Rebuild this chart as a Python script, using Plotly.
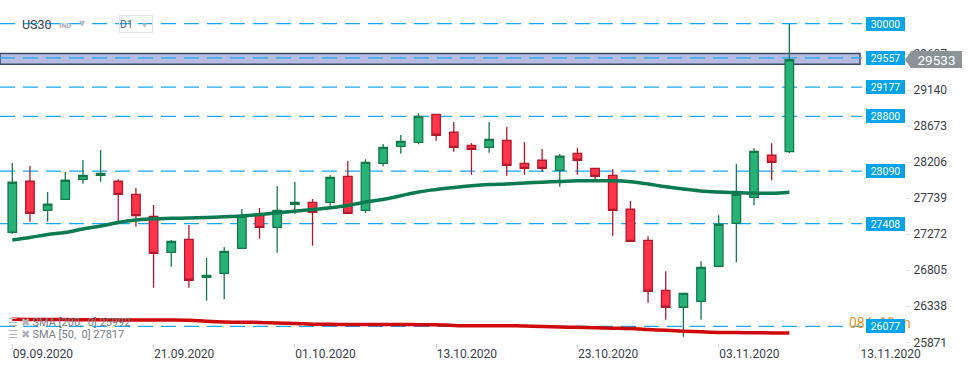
import plotly.graph_objects as go

# ---------------- data ----------------
dates_ticks = ["09.09.2020", "21.09.2020", "01.10.2020", "13.10.2020",
               "23.10.2020", "03.11.2020", "13.11.2020"]
date_tick_idx = [0, 8, 16, 24, 32, 40, 48]

open_ = [27297, 27958, 27582, 27724, 27983, 28035, 27958, 27789, 27504, 27037,
         27206, 26713, 26765, 27089, 27521, 27361, 27660, 27685, 27685, 28022,
         27582, 28191, 28411, 28463, 28826, 28593, 28424, 28398, 28489, 28191,
         28230, 28100, 28320, 28126, 28035, 27595, 27193, 26545, 26325, 26402,
         26856, 27413, 27750, 28295, 28341]
high = [28195, 28156, 27819, 28082, 28234, 28363, 27983, 27871, 27650, 27197,
        27391, 26964, 27106, 27599, 27612, 27897, 27949, 27728, 28039, 28221,
        28243, 28441, 28558, 28839, 28830, 28726, 28454, 28726, 28661, 28467,
        28376, 28311, 28389, 28130, 28113, 27702, 27245, 26791, 26510, 26921,
        27517, 28182, 28385, 28450, 29995]
low = [27275, 27434, 27434, 27718, 27926, 27952, 27434, 27369, 26579, 26851,
       26579, 26410, 26428, 27085, 27214, 27032, 27538, 27123, 27641, 27530,
       27543, 28152, 28315, 28437, 28484, 28341, 28043, 28328, 28030, 28043,
       28082, 27888, 28043, 27974, 27253, 27175, 26384, 26164, 25944, 26164,
       26843, 26908, 27646, 27970, 28324]
close = [27945, 27543, 27660, 27971, 28035, 28061, 27789, 27512, 27024, 27180,
         26675, 26739, 27050, 27504, 27361, 27582, 27685, 27556, 28009, 27543,
         28204, 28398, 28476, 28800, 28554, 28398, 28372, 28502, 28165, 28126,
         28126, 28282, 28230, 28022, 27582, 27180, 26532, 26325, 26506, 26843,
         27400, 27789, 28346, 28204, 29533]

sma50 = [27197, 27229, 27268, 27294, 27339, 27378, 27424, 27456, 27473, 27478,
         27482, 27488, 27498, 27508, 27527, 27549, 27569, 27592, 27614, 27644,
         27689, 27722, 27770, 27819, 27851, 27877, 27899, 27915, 27923, 27936,
         27945, 27955, 27964, 27964, 27964, 27952, 27923, 27886, 27858, 27832,
         27819, 27811, 27803, 27802, 27817]
sma200 = [26169, 26168, 26166, 26165, 26164, 26163, 26161, 26160, 26160, 26159,
          26156, 26143, 26134, 26131, 26129, 26121, 26115, 26106, 26104, 26103,
          26103, 26102, 26102, 26100, 26099, 26089, 26086, 26086, 26085, 26082,
          26076, 26069, 26065, 26059, 26054, 26049, 26038, 26026, 26015, 26007,
          25999, 25997, 25995, 25993, 25992]

levels = [30000, 29557, 29177, 28800, 28090, 27408, 26077]
zone = [29475, 29615]
price_ticks = [25871, 26338, 26805, 27272, 27739, 28206, 28673, 29140, 29607]
symbol = "US30"
timeframe = "D1"
countdown = "08 h 19 m"

# ---------------- layout geometry ----------------
W, H = 974, 368
ML, MR, MT, MB = 0, 69, 0, 25
PW = W - ML - MR          # plot width in px
PH = H - MT - MB          # plot height in px
Y0, Y1 = 25862, 30307
upp = (Y1 - Y0) / PH      # price units per pixel


def px(x):
    return x / PW


def py(y):
    return 1 - y / PH


x_idx = list(range(len(close)))

fig = go.Figure()

fig.add_trace(go.Candlestick(
    x=x_idx, open=open_, high=high, low=low, close=close,
    increasing=dict(line=dict(color="#13794b", width=1.3), fillcolor="#27b377"),
    decreasing=dict(line=dict(color="#b3192d", width=1.3), fillcolor="#ff3349"),
    whiskerwidth=0, showlegend=False, hoverinfo="skip",
))
fig.add_trace(go.Scatter(
    x=x_idx, y=sma50, mode="lines", line=dict(color="#0a7a50", width=3.5, shape="spline"),
    showlegend=False, hoverinfo="skip"))
fig.add_trace(go.Scatter(
    x=x_idx, y=sma200, mode="lines", line=dict(color="#cf0a0a", width=3.5, shape="spline"),
    showlegend=False, hoverinfo="skip"))

shapes = []
# zone band
shapes.append(dict(type="rect", xref="paper", yref="y", x0=0, x1=px(860),
                   y0=zone[0], y1=zone[1], fillcolor="#b7bde2",
                   line=dict(color="#3d4b68", width=1.5), layer="below"))
# level lines
for lv in levels:
    shapes.append(dict(type="line", xref="paper", yref="y", x0=0, x1=px(862),
                       y0=lv, y1=lv, line=dict(color="#17a8ef", width=1.2, dash="15px,8px"),
                       layer="below"))
# current price arrow
last = close[-1]
hh = 8.5 * upp
shapes.append(dict(type="path", xref="paper", yref="y",
                   path=f"M {px(911)},{last + hh} L {px(905)},{last} L {px(911)},{last - hh} Z",
                   fillcolor="#8b9396", line=dict(width=0)))

annotations = []
# orange countdown (under the level box)
annotations.append(dict(xref="paper", yref="y", x=px(847), y=levels[-1] + 3.5 * upp,
                        xanchor="left", yanchor="middle", text=countdown, showarrow=False,
                        font=dict(family="Roboto", size=14, color="#f7941d")))
# level boxes
for lv in levels:
    annotations.append(dict(xref="paper", yref="y", x=px(866), y=lv, xanchor="left",
                            yanchor="middle", text=str(lv), showarrow=False,
                            bgcolor="#05a4ea", width=39, height=14, borderpad=0, borderwidth=0,
                            font=dict(family="Roboto", size=10.5, color="white")))
# current price tag
annotations.append(dict(xref="paper", yref="y", x=px(911), y=last, xanchor="left",
                        yanchor="middle", text=str(last), showarrow=False,
                        bgcolor="#8b9396", width=51, height=17, borderpad=0, borderwidth=0,
                        font=dict(family="Roboto", size=13.5, color="white")))
# top-left header
annotations.append(dict(xref="paper", yref="paper", x=px(20), y=py(24), xanchor="left",
                        yanchor="middle", text=symbol, showarrow=False,
                        font=dict(family="Roboto", size=12.5, color="#3c4250")))
annotations.append(dict(xref="paper", yref="paper", x=px(57), y=py(25), xanchor="left",
                        yanchor="middle", text="<b>IND</b>", showarrow=False,
                        font=dict(family="Roboto", size=7.5, color="#a9adb3")))
annotations.append(dict(xref="paper", yref="paper", x=px(77), y=py(23), xanchor="left",
                        yanchor="middle", text="▼", showarrow=False,
                        font=dict(family="DejaVu Sans", size=8, color="#b8bcc2")))
annotations.append(dict(xref="paper", yref="paper", x=px(119), y=py(24), xanchor="left",
                        yanchor="middle", text=timeframe + "   <span style='color:#b8bcc2;font-size:8px'>▼</span>",
                        showarrow=False, width=32, height=16, align="left",
                        bordercolor="#dfe2e6", borderwidth=1, borderpad=0,
                        font=dict(family="Roboto", size=10.5, color="#555b66")))
# SMA legend
annotations.append(dict(xref="paper", yref="paper", x=px(6), y=py(322), xanchor="left",
                        yanchor="middle",
                        text=f"<span style='color:#b0b3b8'>☰ ✖</span> SMA [200,  0] {sma200[-1]}",
                        showarrow=False, font=dict(family="Roboto", size=11, color="#7a7f87")))
annotations.append(dict(xref="paper", yref="paper", x=px(6), y=py(334.5), xanchor="left",
                        yanchor="middle",
                        text=f"<span style='color:#b0b3b8'>☰ ✖</span> SMA [50,  0] {sma50[-1]}",
                        showarrow=False, font=dict(family="Roboto", size=11, color="#7a7f87")))

fig.update_layout(
    width=W, height=H,
    margin=dict(l=ML, r=MR, t=MT, b=MB),
    paper_bgcolor="white", plot_bgcolor="white",
    boxgap=0.31,
    shapes=shapes, annotations=annotations,
    font=dict(family="Roboto"),
    xaxis=dict(range=[-12.3 / 17.66, (PW - 12.3) / 17.66], tickvals=date_tick_idx,
               ticktext=dates_ticks, ticks="outside", ticklen=5, tickcolor="#d5d8dc",
               showgrid=False, zeroline=False, showline=False,
               ticklabelposition="outside right",
               tickfont=dict(family="Roboto", size=12, color="#3a3f4a"),
               rangeslider=dict(visible=False), fixedrange=True),
    yaxis=dict(range=[Y0, Y1], side="right", tickvals=price_ticks,
               ticktext=[str(t) for t in price_ticks], ticks="outside", ticklen=5,
               tickcolor="#e3e5e8", showgrid=False, zeroline=False, showline=False,
               tickfont=dict(family="Roboto", size=12, color="#3a3f4a"), fixedrange=True),
)

fig.write_html("out.html",
               config={"displayModeBar": False},
               post_script="document.body.style.margin='0';document.body.style.overflow='hidden';")
